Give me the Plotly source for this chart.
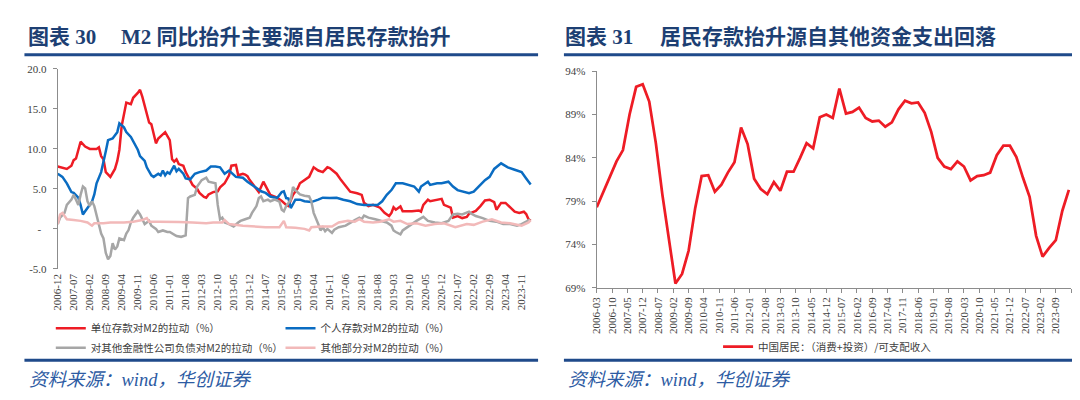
import plotly.graph_objects as go
import pandas as pd

W, H = 1080, 400


def fx(p):
    return p / W


def fy(p):
    return 1 - p / H


# ---------------- Left chart data (month offset from 2006-12, value %) ----------------
LEFT_BASE = "2006-12"
unit_deposit = [(0,7.8),(2,7.6),(4,7.5),(6,7.9),(7,8.6),(8,8.8),(9,10.0),(10,10.9),(12,10.3),(14,10.0),(16,10.0),(17,10.0),(18,10.2),(19,9.1),(20,8.7),(21,7.1),(23,6.5),(25,7.5),(26,8.5),(27,9.9),(28,12.9),(29,14.2),(30,15.8),(32,15.6),(33,16.4),(35,17.0),(36,17.4),(37,16.5),(38,15.5),(40,13.3),(41,13.1),(43,10.7),(44,11.3),(45,11.6),(47,12.1),(49,11.1),(50,8.7),(51,8.4),(52,8.7),(53,8.1),(55,7.9),(56,7.1),(58,6.0),(59,5.5),(61,5.0),(62,4.5),(64,4.0),(65,3.9),(66,4.3),(68,4.6),(70,4.7),(71,5.2),(73,5.7),(75,6.7),(76,7.9),(78,8.0),(79,6.7),(81,6.9),(82,6.8),(83,6.6),(84,6.1),(87,5.05),(88,4.6),(90,5.9),(92,4.85),(93,4.25),(96,3.9),(98,3.5),(100,3.0),(101,2.85),(103,4.25),(105,5.05),(106,5.7),(108,6.1),(110,6.5),(112,7.7),(114,7.3),(116,7.1),(118,7.7),(119,7.6),(122,6.9),(124,6.1),(126,5.3),(128,4.65),(131,4.45),(133,4.25),(134,3.25),(136,2.85),(138,3.0),(141,2.65),(143,2.0),(145,1.6),(146,2.0),(147,2.7),(148,2.4),(150,2.8),(151,2.2),(155,2.2),(158,2.3),(159,2.15),(160,3.0),(162,3.65),(163,3.45),(166,3.65),(168,3.75),(169,3.0),(172,2.65),(173,1.4),(175,1.6),(177,1.35),(179,1.5),(180,1.9),(183,2.25),(185,2.85),(187,3.55),(189,3.65),(191,3.35),(192,2.4),(194,3.25),(196,3.25),(198,2.65),(200,2.15),(202,2.0),(204,2.15),(205,1.85),(206,1.2),(207,1.0)]

personal_deposit = [(0,6.9),(2,6.5),(4,5.7),(6,4.6),(7,4.5),(9,3.9),(10,3.0),(11,1.8),(12,2.2),(14,3.0),(15,3.4),(16,4.3),(17,5.7),(19,7.1),(20,8.3),(21,9.7),(22,11.1),(24,11.3),(26,12.1),(27,13.2),(29,12.7),(30,12.1),(32,11.5),(33,10.9),(35,9.9),(36,9.1),(38,8.5),(39,7.7),(41,6.7),(42,6.5),(44,6.9),(45,6.7),(46,7.3),(47,6.7),(48,7.1),(49,6.9),(51,7.9),(52,7.2),(53,7.5),(55,6.9),(56,6.3),(58,6.2),(60,6.9),(62,7.1),(65,7.3),(67,7.8),(69,7.8),(71,7.7),(73,6.9),(75,7.3),(78,6.5),(81,6.4),(83,5.9),(86,5.3),(89,4.7),(91,4.5),(93,4.05),(96,3.85),(98,4.6),(99,4.7),(100,3.85),(101,3.8),(102,2.6),(104,3.65),(106,3.65),(108,3.45),(111,3.35),(114,3.65),(116,3.9),(119,3.85),(122,3.9),(125,3.65),(128,3.45),(131,3.1),(134,3.0),(137,3.0),(140,3.0),(142,3.45),(144,4.25),(146,4.85),(148,5.7),(151,5.7),(153,5.55),(156,5.3),(158,4.65),(159,5.3),(162,5.9),(163,5.5),(166,5.7),(168,5.7),(171,5.9),(173,5.3),(175,4.85),(178,4.6),(180,4.45),(182,4.65),(185,5.5),(187,6.1),(189,6.5),(191,7.5),(194,8.2),(197,7.7),(200,7.4),(203,7.1),(205,6.3),(207,5.55)]

other_fin_liab = [(0,0.6),(1,1.4),(3,2.0),(4,3.0),(6,3.65),(7,4.25),(8,3.65),(9,3.0),(10,4.25),(11,5.3),(12,5.05),(13,3.45),(14,2.85),(15,3.45),(16,2.85),(17,1.8),(18,0.4),(19,-0.6),(20,-1.2),(21,-3.0),(22,-3.8),(23,-3.4),(24,-1.8),(25,-2.6),(26,-2.2),(27,-1.2),(29,-1.4),(30,-0.6),(31,-0.15),(32,0.8),(33,1.4),(35,2.2),(36,1.8),(37,1.2),(38,0.6),(40,1.0),(41,0.4),(43,0.0),(44,-0.4),(46,-0.2),(48,-0.4),(49,-0.4),(52,-0.9),(54,-1.0),(56,-0.8),(57,3.85),(58,4.05),(60,4.25),(61,5.3),(63,6.1),(65,6.4),(66,5.9),(68,5.8),(69,5.7),(70,3.0),(71,1.2),(72,1.4),(73,0.8),(75,0.6),(77,0.3),(79,0.8),(80,1.0),(82,1.2),(84,1.4),(85,2.0),(87,2.85),(88,3.85),(89,4.05),(90,3.45),(92,3.65),(93,3.45),(95,3.65),(97,3.4),(98,2.4),(99,2.2),(100,2.85),(102,3.65),(103,5.25),(104,4.85),(106,4.3),(108,4.15),(110,4.05),(111,3.45),(112,2.0),(114,0.6),(115,-0.2),(116,0.2),(117,-0.3),(118,0.0),(120,-0.5),(121,-0.1),(123,0.2),(126,0.4),(128,0.8),(130,1.1),(132,1.4),(133,1.2),(134,1.65),(136,1.4),(139,1.2),(142,1.0),(144,0.8),(146,0.4),(147,-0.2),(148,-0.4),(150,-0.7),(151,-0.2),(153,0.2),(155,0.7),(157,1.0),(160,1.5),(162,1.0),(165,0.8),(168,0.7),(171,1.0),(173,1.8),(175,1.9),(177,1.8),(180,2.15),(181,1.9),(183,1.6),(186,1.35),(189,1.0),(192,0.9),(195,0.6),(198,0.6),(201,0.4),(203,0.6),(205,0.9),(206,1.1),(207,1.0)]

other_parts = [(0,0.6),(1,1.8),(2,2.0),(4,1.2),(7,1.1),(10,1.0),(13,0.8),(15,0.4),(16,0.7),(20,0.7),(23,0.8),(26,0.8),(29,0.8),(33,0.9),(37,1.1),(39,1.35),(40,0.9),(44,0.9),(49,0.9),(53,0.85),(59,0.8),(65,0.7),(68,0.8),(72,0.8),(73,1.1),(75,0.6),(81,0.4),(86,0.3),(91,0.2),(97,0.2),(99,1.0),(100,0.2),(104,0.15),(108,0.0),(110,-0.2),(111,0.2),(115,0.3),(120,0.3),(123,0.8),(127,1.0),(130,0.9),(132,1.2),(134,0.9),(138,0.8),(141,0.9),(145,1.2),(147,0.9),(150,1.0),(153,0.6),(157,0.7),(161,0.4),(165,0.6),(169,0.7),(174,0.2),(179,0.6),(182,0.5),(186,0.9),(190,1.2),(194,0.8),(198,0.7),(203,0.4),(206,0.8),(207,1.1)]

left_names = ["单位存款对M2的拉动（%）", "个人存款对M2的拉动（%）",
              "对其他金融性公司负债对M2的拉动（%）", "其他部分对M2的拉动（%）"]
left_colors = ["#ee1c25", "#0a6cc2", "#a6a6a6", "#f2b9b9"]

left_xtick_labels = ["2006-12","2007-07","2008-02","2008-09","2009-04","2009-11","2010-06","2011-01",
                     "2011-08","2012-03","2012-10","2013-05","2013-12","2014-07","2015-02","2015-09",
                     "2016-04","2016-11","2017-06","2018-01","2018-08","2019-03","2019-10","2020-05",
                     "2020-12","2021-07","2022-02","2022-09","2023-04","2023-11"]
left_ytick_vals = [-5, 0, 5, 10, 15, 20]
left_ytick_text = ["-5.0", "-\u00a0\u00a0", "5.0", "10.0", "15.0", "20.0"]

# ---------------- Right chart data (quarterly from 2006-03, %) ----------------
RIGHT_START = "2006-03"
household_ratio = [78.3, 80.1, 81.7, 83.6, 84.9, 89.0, 92.2, 92.5, 90.5, 85.7, 79.7, 74.8, 69.5,
                   70.6, 73.3, 78.2, 81.9, 82.0, 80.1, 80.9, 82.3, 83.5, 87.5, 85.6, 81.6, 80.4,
                   79.8, 81.2, 80.2, 82.4, 82.4, 84.0, 85.7, 85.1, 88.7, 89.0,
                   88.6, 92.0, 89.1, 89.3, 89.8, 88.6, 88.2, 88.3, 87.6, 88.1, 89.6, 90.6, 90.3,
                   90.4, 89.2, 87.0, 84.0, 83.0, 82.7, 83.6, 83.0, 81.4, 81.9, 82.0, 82.3, 84.3,
                   85.4, 85.4, 84.1, 81.7, 79.5, 75.0, 72.6, 73.6, 74.5, 77.9, 80.3]
right_name = "中国居民：（消费+投资）/可支配收入"
right_xtick_labels = ["2006-03","2006-10","2007-05","2007-12","2008-07","2009-02","2009-09","2010-04",
                      "2010-11","2011-06","2012-01","2012-08","2013-03","2013-10","2014-05","2014-12",
                      "2015-07","2016-02","2016-09","2017-04","2017-11","2018-06","2019-01","2019-08",
                      "2020-03","2020-10","2021-05","2021-12","2022-07","2023-02","2023-09"]
right_ytick_vals = [69, 74, 79, 84, 89, 94]
right_ytick_text = ["69%", "74%", "79%", "84%", "89%", "94%"]


def month_dates(base, offsets):
    p = pd.Period(base, freq="M")
    return [(p + int(k)).to_timestamp().strftime("%Y-%m-%d") for k in offsets]


def label_dates(labels):
    return [s + "-01" for s in labels]


SERIF = "Liberation Serif, Times New Roman, serif"
CJK = "Noto Sans CJK SC, Noto Sans, sans-serif"
TITLE_FONT = "Liberation Serif, Noto Sans CJK SC, serif"
TICK_COLOR = "#404040"
AXIS_COLOR = "#8c8c8c"
NAVY = "#1d3f73"
RULE = "#1f4a8a"

fig = go.Figure()

left_series = [unit_deposit, personal_deposit, other_fin_liab, other_parts]
legend_ids = ["legend", "legend2", "legend3", "legend4"]
for series, name, color, lg in zip(left_series, left_names, left_colors, legend_ids):
    offs = [p[0] for p in series]
    vals = [p[1] for p in series]
    fig.add_trace(go.Scatter(
        x=month_dates(LEFT_BASE, offs), y=vals, mode="lines", name=name,
        line=dict(color=color, width=2.5), xaxis="x", yaxis="y", legend=lg,
        hoverinfo="skip"))

right_x = pd.date_range(RIGHT_START + "-01", periods=len(household_ratio), freq="3MS").strftime("%Y-%m-%d")
fig.add_trace(go.Scatter(
    x=list(right_x), y=household_ratio, mode="lines", name=right_name,
    line=dict(color="#ee1c25", width=2.75), xaxis="x2", yaxis="y2", legend="legend5",
    hoverinfo="skip"))

left_range = ["2006-12-01", "2024-03-20"]
right_range = ["2006-03-01", "2024-04-01"]
tickfont = dict(family=SERIF, size=11, color=TICK_COLOR)

right_tickvals = label_dates(right_xtick_labels) + ["2024-04-01"]
right_ticktext = right_xtick_labels + [""]

fig.update_layout(
    width=W, height=H, margin=dict(l=0, r=0, t=0, b=0),
    paper_bgcolor="white", plot_bgcolor="rgba(0,0,0,0)",
    showlegend=True,
    xaxis=dict(domain=[fx(44), fx(521)], range=left_range, anchor="y", type="date",
               tickmode="array", tickvals=label_dates(left_xtick_labels), ticktext=left_xtick_labels,
               tickangle=-90, tickfont=tickfont, showline=False, ticks="", showgrid=False,
               zeroline=False, ticklabelstandoff=2),
    xaxis3=dict(overlaying="x", anchor="free", position=fy(221.7), range=left_range, type="date",
                tickmode="array", tickvals=label_dates(left_xtick_labels), showticklabels=False,
                showline=True, linecolor="#7f7f7f", linewidth=1, ticks="outside", ticklen=4,
                tickcolor="#7f7f7f", showgrid=False, zeroline=False),
    yaxis=dict(domain=[fy(262.7), fy(56.7)], range=[-5, 20], anchor="x",
               tickmode="array", tickvals=left_ytick_vals, ticktext=left_ytick_text,
               tickfont=tickfont, showline=True, linecolor=AXIS_COLOR, linewidth=1,
               ticks="outside", ticklen=4, tickcolor=AXIS_COLOR, showgrid=False, zeroline=False,
               ticklabelstandoff=4),
    xaxis2=dict(domain=[fx(586), fx(1063)], range=right_range, anchor="y2", type="date",
                tickmode="array", tickvals=right_tickvals, ticktext=right_ticktext,
                tickangle=-90, tickfont=tickfont, showline=True, linecolor=AXIS_COLOR, linewidth=1,
                ticks="outside", ticklen=4, tickcolor=AXIS_COLOR, showgrid=False, zeroline=False),
    yaxis2=dict(domain=[fy(282.3), fy(59)], range=[69, 94], anchor="x2",
                tickmode="array", tickvals=right_ytick_vals, ticktext=right_ytick_text,
                tickfont=tickfont, showline=True, linecolor=AXIS_COLOR, linewidth=1,
                ticks="outside", ticklen=4, tickcolor=AXIS_COLOR, showgrid=False, zeroline=False,
                ticklabelstandoff=4),
)

legend_font = dict(family=CJK, size=10.5, color=TICK_COLOR)
legend_pos = {
    "legend": (37, 324), "legend2": (268, 324),
    "legend3": (37, 344), "legend4": (268, 344),
    "legend5": (708, 343),
}
for key, (px, py) in legend_pos.items():
    fig.update_layout(**{key: dict(x=fx(px), y=fy(py), xanchor="left", yanchor="middle",
                                   xref="paper", yref="paper",
                                   bgcolor="rgba(0,0,0,0)", borderwidth=0, font=legend_font,
                                   itemwidth=30, orientation="h", itemclick=False,
                                   itemdoubleclick=False)})

# Rules under titles and above sources
shapes = []
for x0, x1 in [(10.5, 527), (553, 1067)]:
    for yy in (42, 357):
        shapes.append(dict(type="line", xref="paper", yref="paper",
                           x0=fx(x0), x1=fx(x1), y0=fy(yy), y1=fy(yy),
                           line=dict(color=RULE, width=3)))
fig.update_layout(shapes=shapes)

annotations = []
title_parts = [
    (12, "<b>图表 30</b>"), (106, "<b>M2 同比抬升主要源自居民存款抬升</b>"),
    (552, "<b>图表 31</b>"), (648, "<b>居民存款抬升源自其他资金支出回落</b>"),
]
for xx, txt in title_parts:
    annotations.append(dict(xref="paper", yref="paper", x=fx(xx), y=fy(24), xanchor="left",
                            yanchor="middle", align="left", showarrow=False, text=txt,
                            font=dict(family=TITLE_FONT, size=21, color=NAVY)))
for xx in (13, 555):
    annotations.append(dict(xref="paper", yref="paper", x=fx(xx), y=fy(377), xanchor="left",
                            yanchor="middle", align="left", showarrow=False,
                            text="<i>资料来源：wind，华创证券</i>",
                            font=dict(family=TITLE_FONT, size=18.5, color="#2d5ba3")))
fig.update_layout(annotations=annotations)

fig.write_html("out.html")
